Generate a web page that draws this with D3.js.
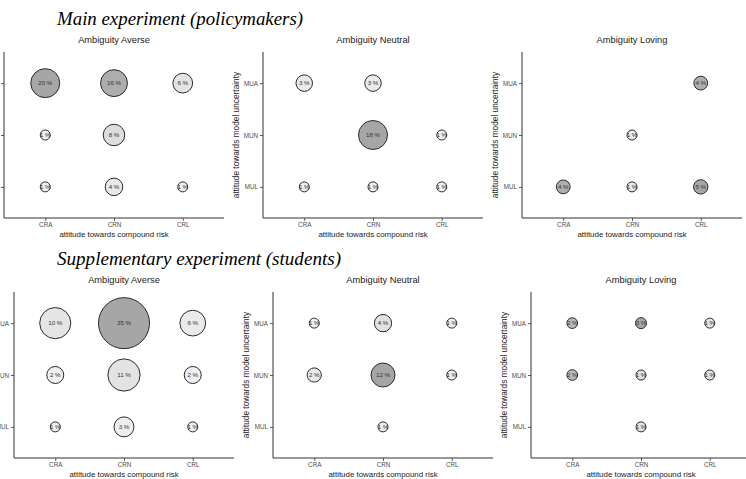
<!DOCTYPE html>
<html>
<head>
<meta charset="utf-8">
<script src="https://cdn.jsdelivr.net/npm/d3@7"></script>
<style>
  html, body { margin: 0; padding: 0; background: #fff; }
  svg { display: block; }
</style>
</head>
<body>
<svg id="chart" width="746" height="479"></svg>
<script>
// ---------- data ----------
const xCategories = ["CRA", "CRN", "CRL"];
const yCategories = ["MUL", "MUN", "MUA"];
const panelTitles = ["Ambiguity Averse", "Ambiguity Neutral", "Ambiguity Loving"];
const experimentTitles = ["Main experiment (policymakers)", "Supplementary experiment (students)"];
const xAxisTitle = "attitude towards compound risk";
const yAxisTitle = "attitude towards model uncertainty";

const mainAverse = [
  { x: "CRA", y: "MUA", v: 20 }, { x: "CRN", y: "MUA", v: 16 }, { x: "CRL", y: "MUA", v: 6 },
  { x: "CRA", y: "MUN", v: 1 },  { x: "CRN", y: "MUN", v: 8 },
  { x: "CRA", y: "MUL", v: 1 },  { x: "CRN", y: "MUL", v: 4 },  { x: "CRL", y: "MUL", v: 1 }
];
const mainNeutral = [
  { x: "CRA", y: "MUA", v: 3 }, { x: "CRN", y: "MUA", v: 3 },
  { x: "CRN", y: "MUN", v: 18 }, { x: "CRL", y: "MUN", v: 1 },
  { x: "CRA", y: "MUL", v: 1 }, { x: "CRN", y: "MUL", v: 1 }, { x: "CRL", y: "MUL", v: 1 }
];
const mainLoving = [
  { x: "CRL", y: "MUA", v: 4 },
  { x: "CRN", y: "MUN", v: 1 },
  { x: "CRA", y: "MUL", v: 4 }, { x: "CRN", y: "MUL", v: 1 }, { x: "CRL", y: "MUL", v: 5 }
];
const suppAverse = [
  { x: "CRA", y: "MUA", v: 10 }, { x: "CRN", y: "MUA", v: 35 }, { x: "CRL", y: "MUA", v: 6 },
  { x: "CRA", y: "MUN", v: 2 },  { x: "CRN", y: "MUN", v: 11 }, { x: "CRL", y: "MUN", v: 2 },
  { x: "CRA", y: "MUL", v: 1 },  { x: "CRN", y: "MUL", v: 3 },  { x: "CRL", y: "MUL", v: 1 }
];
const suppNeutral = [
  { x: "CRA", y: "MUA", v: 1 }, { x: "CRN", y: "MUA", v: 4 }, { x: "CRL", y: "MUA", v: 1 },
  { x: "CRA", y: "MUN", v: 2 }, { x: "CRN", y: "MUN", v: 12 }, { x: "CRL", y: "MUN", v: 1 },
  { x: "CRN", y: "MUL", v: 1 }
];
const suppLoving = [
  { x: "CRA", y: "MUA", v: 2 }, { x: "CRN", y: "MUA", v: 3 }, { x: "CRL", y: "MUA", v: 1 },
  { x: "CRA", y: "MUN", v: 2 }, { x: "CRN", y: "MUN", v: 1 }, { x: "CRL", y: "MUN", v: 1 },
  { x: "CRN", y: "MUL", v: 1 }
];
const rows = [
  [mainAverse, mainNeutral, mainLoving],
  [suppAverse, suppNeutral, suppLoving]
];

// ---------- layout / style ----------
const rowLayout = [
  { top: 52, bottom: 218, left: [4, 263, 522], titleY: 25, maxR: [14.5, 14.5, 7.2] },
  { top: 292, bottom: 458, left: [14, 273, 531], titleY: 265, maxR: [25.5, 12, 5.5] }
];
const plotW = 220;
const minR = 5;
const axisColor = "#333";
const tickTextColor = "#4d4d4d";
const sans = "'Liberation Sans', Arial, sans-serif";

const svg = d3.select("#chart");

const titleWidths = [246, 284];
experimentTitles.forEach((t, i) => {
  svg.append("text")
    .attr("x", 57).attr("y", rowLayout[i].titleY)
    .attr("font-family", "'Liberation Serif', 'Times New Roman', serif")
    .attr("font-style", "italic")
    .attr("font-size", 19)
    .attr("textLength", titleWidths[i])
    .attr("lengthAdjust", "spacingAndGlyphs")
    .attr("fill", "#000")
    .text(t);
});

const fillScale = d3.scaleLinear()
  .domain([0, 0.3, 0.5, 0.72, 1])
  .range(["#f2f2f2", "#e4e4e4", "#d6d6d6", "#b0b0b0", "#a6a6a6"])
  .clamp(true);

rows.forEach((panels, ri) => {
  const L = rowLayout[ri];
  panels.forEach((data, pi) => {
    const x0 = L.left[pi];
    const g = svg.append("g");
    const x = d3.scalePoint().domain(xCategories).range([x0, x0 + plotW]).padding(0.6);
    const y = d3.scalePoint().domain(yCategories).range([L.bottom, L.top]).padding(0.6);

    const vmin = d3.min(data, d => d.v), vmax = d3.max(data, d => d.v);
    const t = d3.scaleLinear().domain([vmin, vmax === vmin ? vmin + 1 : vmax]).range([0, 1]).clamp(true);
    const r = v => minR + (L.maxR[pi] - minR) * Math.sqrt(t(v));

    // axes
    const xAxis = g.append("g").attr("transform", `translate(0,${L.bottom})`)
      .call(d3.axisBottom(x).tickSize(3).tickPadding(2));
    const yAxis = g.append("g").attr("transform", `translate(${x0},0)`)
      .call(d3.axisLeft(y).tickSize(3).tickPadding(2));
    [xAxis, yAxis].forEach(a => {
      a.select(".domain").attr("stroke", axisColor).attr("stroke-width", 1)
        .attr("d", null);
      a.selectAll(".tick line").attr("stroke", axisColor).attr("stroke-width", 0.8);
      a.selectAll(".tick text").attr("fill", tickTextColor)
        .attr("font-family", sans).attr("font-size", 6.3);
    });
    xAxis.select(".domain").remove();
    yAxis.select(".domain").remove();
    g.append("line").attr("x1", x0).attr("x2", x0 + plotW)
      .attr("y1", L.bottom).attr("y2", L.bottom)
      .attr("stroke", axisColor).attr("stroke-width", 1);
    g.append("line").attr("x1", x0).attr("x2", x0)
      .attr("y1", L.top).attr("y2", L.bottom)
      .attr("stroke", axisColor).attr("stroke-width", 1);

    // titles
    g.append("text")
      .attr("x", x0 + plotW / 2).attr("y", L.top - 9)
      .attr("text-anchor", "middle")
      .attr("font-family", sans).attr("font-size", 9.3).attr("fill", "#1a1a1a")
      .text(panelTitles[pi]);
    g.append("text")
      .attr("x", x0 + plotW / 2).attr("y", L.bottom + 18.5)
      .attr("text-anchor", "middle")
      .attr("font-family", sans).attr("font-size", 7.9).attr("fill", "#1a1a1a")
      .text(xAxisTitle);
    g.append("text")
      .attr("transform", `translate(${x0 - 24},${(L.top + L.bottom) / 2}) rotate(-90)`)
      .attr("text-anchor", "middle")
      .attr("font-family", sans).attr("font-size", 8.3).attr("fill", "#1a1a1a")
      .text(yAxisTitle);

    // bubbles
    const pts = g.append("g").selectAll("g").data(data).join("g")
      .attr("transform", d => `translate(${x(d.x)},${y(d.y)})`);
    pts.append("circle")
      .attr("r", d => r(d.v))
      .attr("fill", d => fillScale(d.v / vmax))
      .attr("stroke", "#2b2b2b").attr("stroke-width", 1);
    pts.append("text")
      .attr("text-anchor", "middle").attr("dy", "0.35em")
      .attr("font-family", sans).attr("font-size", 6.2).attr("fill", "#333")
      .text(d => d.v + " %");
  });
});
</script>
</body>
</html>
